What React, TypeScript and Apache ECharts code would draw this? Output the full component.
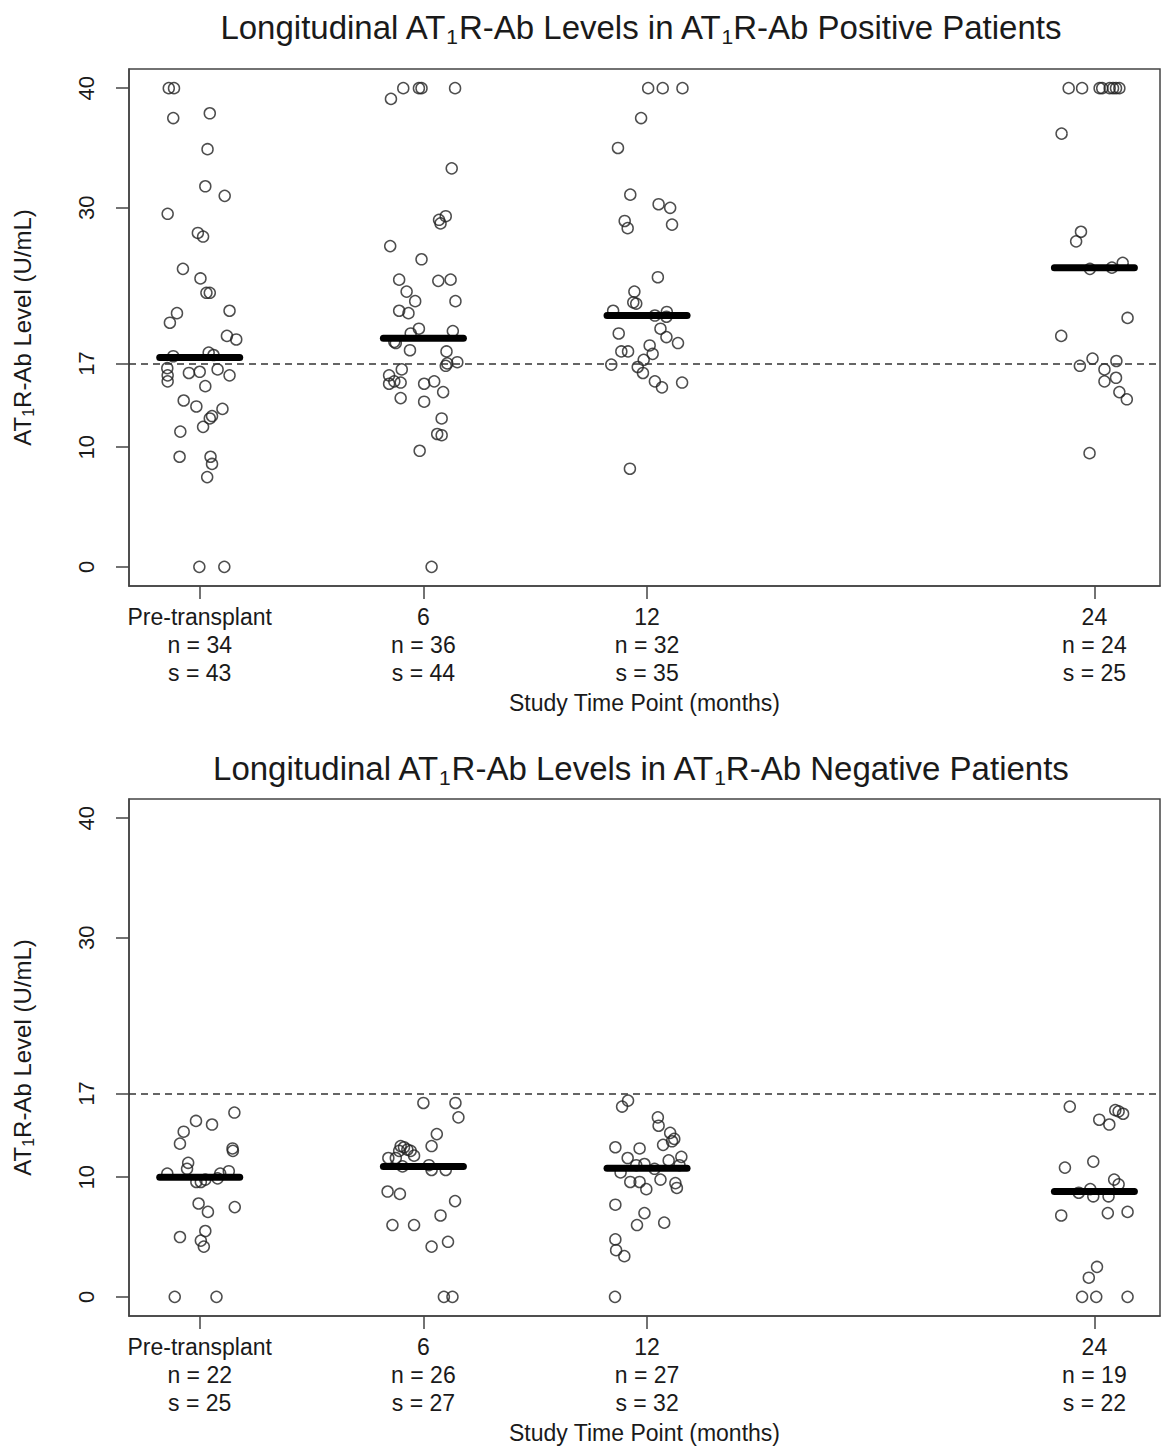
import React, { useEffect, useRef } from 'react';
import * as echarts from 'echarts';

// ---------- data ----------
const timePoints = [0, 6, 12, 24];
const timeLabels = ['Pre-transplant', '6', '12', '24'];
const posN = [34, 36, 32, 24];
const posS = [43, 44, 35, 25];
const negN = [22, 26, 27, 19];
const negS = [25, 27, 32, 22];
const yTicks = [0, 10, 17, 30, 40];
const threshold = 17;
const posMedians = [17.5, 19.1, 21.0, 25.0];
const negMedians = [10.0, 10.9, 10.75, 8.8];

// points: [jitter offset from time point (months), AT1R-Ab level (U/mL)]
const posPre = [
  [-0.83, 40], [-0.69, 40], [-0.71, 37.5], [0.27, 37.9], [0.21, 34.9], [0.15, 31.8], [0.67, 31.0],
  [-0.86, 29.5], [-0.05, 27.9], [0.09, 27.6], [-0.45, 24.9], [0.02, 24.1], [0.18, 22.9], [0.27, 22.9],
  [-0.61, 21.2], [0.8, 21.4], [-0.8, 20.4], [0.73, 19.3], [0.98, 19.0], [-0.71, 17.6], [0.24, 17.9],
  [0.37, 17.7], [-0.87, 16.6], [-0.86, 16.0], [-0.86, 15.5], [-0.29, 16.2], [0, 16.3], [0.48, 16.5],
  [0.8, 16.0], [0.15, 15.1], [-0.43, 13.9], [-0.09, 13.4], [0.61, 13.2], [0.27, 12.4], [0.33, 12.6],
  [0.09, 11.7], [-0.52, 11.3], [-0.54, 9.2], [0.29, 9.2], [0.33, 8.6], [0.2, 7.5], [-0.01, 0], [0.66, 0],
];
const pos6 = [
  [-0.87, 39.1], [-0.54, 40], [-0.12, 40], [-0.05, 40], [0.85, 40], [0.76, 33.3], [0.42, 29.0],
  [0.6, 29.3], [0.46, 28.7], [-0.89, 26.8], [-0.05, 25.7], [-0.65, 24.0], [0.4, 23.9], [0.73, 24.0],
  [-0.45, 23.0], [-0.22, 22.2], [-0.65, 21.4], [-0.4, 21.2], [0.86, 22.2], [-0.12, 19.9], [-0.34, 19.5],
  [0.79, 19.7], [-0.78, 18.8], [-0.74, 18.7], [-0.36, 18.1], [0.62, 18.0], [0.64, 17.0], [0.6, 16.8],
  [0.91, 17.1], [-0.58, 16.5], [-0.92, 16.0], [-0.92, 15.3], [-0.78, 15.5], [-0.61, 15.4], [0.02, 15.3],
  [0.29, 15.5], [0.53, 14.6], [-0.61, 14.1], [0.02, 13.8], [0.49, 12.4], [0.37, 11.1], [0.49, 11.0],
  [-0.1, 9.7], [0.22, 0],
];
const pos12 = [
  [0.03, 40], [0.42, 40], [0.95, 40], [-0.16, 37.5], [-0.78, 35.0], [-0.45, 31.1], [0.31, 30.3],
  [0.62, 30.0], [-0.6, 28.9], [-0.52, 28.3], [0.67, 28.6], [0.29, 24.2], [-0.34, 23.0], [-0.37, 22.1],
  [-0.29, 22.0], [-0.91, 21.4], [0.21, 21.0], [0.53, 21.3], [0.52, 20.9], [-0.76, 19.5], [0.36, 19.9],
  [0.52, 19.2], [0.83, 18.7], [0.07, 18.5], [-0.69, 18.0], [-0.51, 18.0], [0.15, 17.8], [-0.09, 17.3],
  [-0.96, 16.9], [-0.25, 16.7], [-0.11, 16.2], [0.21, 15.5], [0.4, 15.0], [0.94, 15.4], [-0.46, 8.2],
];
const pos24 = [
  [-0.69, 40], [-0.33, 40], [0.14, 40], [0.21, 40], [0.41, 40], [0.5, 40], [0.58, 40], [0.67, 40],
  [-0.88, 36.2], [-0.36, 28.0], [-0.49, 27.2], [-0.12, 24.9], [0.47, 25.0], [0.76, 25.4], [0.89, 20.8],
  [-0.89, 19.3], [-0.05, 17.4], [-0.39, 16.8], [0.59, 17.2], [0.27, 16.5], [0.27, 15.5], [0.58, 15.8],
  [0.67, 14.6], [0.87, 14.0], [-0.13, 9.5],
];
const negPre = [
  [0.93, 15.4], [-0.1, 14.7], [0.33, 14.4], [-0.43, 13.8], [-0.53, 12.8], [0.88, 12.4], [0.89, 12.2],
  [-0.31, 11.2], [-0.34, 10.7], [-0.87, 10.3], [0.55, 10.3], [0.78, 10.5], [0.48, 9.9], [-0.09, 9.6],
  [0.03, 9.6], [0.15, 9.8], [-0.03, 7.8], [0.22, 7.1], [0.94, 7.5], [0.15, 5.5], [-0.53, 5.0],
  [0.03, 4.7], [0.11, 4.2], [-0.67, 0], [0.45, 0],
];
const neg6 = [
  [0, 16.2], [0.86, 16.2], [0.94, 15.0], [0.36, 13.6], [0.22, 12.6], [-0.61, 12.6], [-0.52, 12.5],
  [-0.43, 12.3], [-0.65, 12.2], [-0.34, 12.2], [-0.25, 11.8], [-0.94, 11.6], [-0.74, 11.6], [0.15, 11.0],
  [0.22, 10.6], [0.6, 10.6], [-0.56, 10.9], [-0.96, 8.8], [-0.63, 8.6], [0.85, 8.0], [0.46, 6.8],
  [-0.83, 6.0], [-0.25, 6.0], [0.66, 4.6], [0.22, 4.2], [0.55, 0], [0.78, 0],
];
const neg12 = [
  [-0.51, 16.4], [-0.67, 15.9], [0.29, 15.0], [0.31, 14.3], [0.62, 13.7], [0.73, 13.2], [0.67, 13.0],
  [0.43, 12.7], [-0.85, 12.5], [-0.2, 12.4], [0.92, 11.7], [-0.52, 11.6], [0.58, 11.4], [-0.29, 11.0],
  [-0.07, 11.1], [0.87, 11.0], [-0.71, 10.4], [0.2, 10.7], [-0.45, 9.6], [-0.2, 9.6], [-0.02, 9.0],
  [0.36, 9.8], [0.76, 9.5], [0.8, 9.1], [-0.85, 7.7], [-0.07, 7.0], [-0.27, 6.0], [0.46, 6.2],
  [-0.85, 4.8], [-0.83, 3.9], [-0.61, 3.4], [-0.86, 0],
];
const neg24 = [
  [-0.66, 15.9], [0.56, 15.6], [0.65, 15.5], [0.77, 15.3], [0.13, 14.8], [0.4, 14.4], [-0.79, 10.8],
  [-0.03, 11.3], [0.53, 9.8], [0.65, 9.4], [-0.42, 8.7], [-0.11, 9.0], [-0.03, 8.4], [0.38, 8.4],
  [-0.89, 6.8], [0.36, 7.0], [0.89, 7.1], [0.07, 2.5], [-0.15, 1.6], [-0.33, 0], [0.05, 0], [0.89, 0],
];

// ---------- layout / style ----------
const FONT = '"Liberation Sans", Arial, Helvetica, sans-serif';
const TEXT = '#1a1a1a';
const AXIS = '#444';
const GRID_LEFT = 125;
const GRID_W = 1035;
const GRID_H = 517;
const gridTops = [69, 799];
const titleYs = [27, 768];
const X_MIN = -1.897;
const X_MAX = 25.76;
const Y_MIN = -1.6;
const Y_MAX = 41.6;
const MEDIAN_HALF = 40;

const panels = [
  { groups: [posPre, pos6, pos12, pos24], medians: posMedians, n: posN, s: posS, word: 'Positive' },
  { groups: [negPre, neg6, neg12, neg24], medians: negMedians, n: negN, s: negS, word: 'Negative' },
];

function buildOption() {
  const grid: any[] = [];
  const xAxis: any[] = [];
  const yAxis: any[] = [];
  const series: any[] = [];
  const graphic: any[] = [];

  panels.forEach((p, i) => {
    grid.push({
      left: GRID_LEFT, top: gridTops[i], width: GRID_W, height: GRID_H,
      show: true, borderColor: AXIS, borderWidth: 1.5, backgroundColor: 'transparent',
    });
    xAxis.push({
      gridIndex: i, type: 'value', min: X_MIN, max: X_MAX,
      splitLine: { show: false },
      axisLine: { show: true, onZero: false, lineStyle: { color: AXIS, width: 1.5 } },
      axisTick: { show: true, customValues: timePoints, length: 13, lineStyle: { color: AXIS, width: 1.5 } },
      axisLabel: {
        customValues: timePoints, margin: 17, fontSize: 23, lineHeight: 28, color: TEXT, fontFamily: FONT,
        formatter: (v: number) => {
          const k = timePoints.indexOf(v);
          return `${timeLabels[k]}\nn = ${p.n[k]}\ns = ${p.s[k]}`;
        },
      },
      name: 'Study Time Point (months)', nameLocation: 'middle', nameGap: 105,
      nameTextStyle: { fontSize: 23, lineHeight: 23, color: TEXT, fontFamily: FONT },
    });
    yAxis.push({
      gridIndex: i, type: 'value', min: Y_MIN, max: Y_MAX,
      splitLine: { show: false },
      axisLine: { show: true, onZero: false, lineStyle: { color: AXIS, width: 1.5 } },
      axisTick: { show: true, customValues: yTicks, length: 13, lineStyle: { color: AXIS, width: 1.5 } },
      axisLabel: { customValues: yTicks, rotate: 90, margin: 32, fontSize: 22, color: TEXT, fontFamily: FONT },
      name: 'AT{s|1}R-Ab Level (U/mL)', nameLocation: 'middle', nameGap: 93, nameRotate: 90,
      nameTextStyle: {
        fontSize: 24, lineHeight: 28, color: TEXT, fontFamily: FONT,
        rich: { s: { fontSize: 16, lineHeight: 16, verticalAlign: 'bottom', color: TEXT, fontFamily: FONT } },
      },
    });

    const pts: number[][] = [];
    p.groups.forEach((g, gi) => g.forEach(([dx, v]) => pts.push([timePoints[gi] + dx, v])));
    series.push({
      type: 'scatter', xAxisIndex: i, yAxisIndex: i, data: pts,
      symbol: 'circle', symbolSize: 11, silent: true,
      itemStyle: { color: 'rgba(255,255,255,0)', borderColor: '#222', borderWidth: 1.5 },
      markLine: {
        silent: true, symbol: ['none', 'none'], label: { show: false },
        lineStyle: { type: [7, 5], color: '#333', width: 1.5 },
        data: [{ yAxis: threshold }],
      },
      z: 3,
    });
    series.push({
      type: 'custom', xAxisIndex: i, yAxisIndex: i, coordinateSystem: 'cartesian2d',
      data: p.medians.map((m, k) => [timePoints[k], m]), silent: true, z: 4,
      renderItem: (_params: any, api: any) => {
        const c = api.coord([api.value(0), api.value(1)]);
        return {
          type: 'line',
          shape: { x1: c[0] - MEDIAN_HALF, y1: c[1], x2: c[0] + MEDIAN_HALF, y2: c[1] },
          style: { stroke: '#000', lineWidth: 7, lineCap: 'round' },
        };
      },
    });

    graphic.push({
      type: 'text', x: GRID_LEFT + GRID_W / 2 - 2, y: titleYs[i], silent: true,
      style: {
        text: `Longitudinal AT{s|1}R-Ab Levels in AT{s|1}R-Ab ${p.word} Patients`,
        align: 'center', verticalAlign: 'middle',
        fontSize: 33, lineHeight: 40, fontFamily: FONT, fill: TEXT,
        rich: { s: { fontSize: 21, lineHeight: 21, verticalAlign: 'bottom', fill: TEXT, fontFamily: FONT } },
      },
    });
  });

  return {
    animation: false,
    backgroundColor: '#fff',
    textStyle: { fontFamily: FONT },
    grid, xAxis, yAxis, series, graphic,
  };
}

export default function App() {
  const ref = useRef<HTMLDivElement>(null);
  useEffect(() => {
    document.body.style.margin = '0';
    const chart = echarts.init(ref.current!, null, { renderer: 'svg' });
    chart.setOption(buildOption() as any);
    return () => chart.dispose();
  }, []);
  return <div ref={ref} style={{ width: 1163, height: 1448, background: '#fff' }} />;
}
